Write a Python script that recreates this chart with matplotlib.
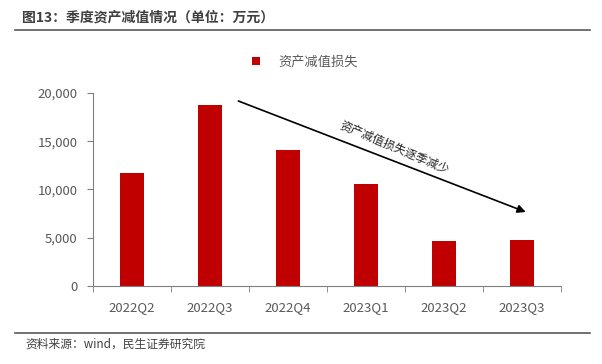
import matplotlib.pyplot as plt
from matplotlib.ticker import FuncFormatter

plt.rcParams["font.family"] = ["Noto Sans CJK SC", "DejaVu Sans"]

QUARTERS = ["2022Q2", "2022Q3", "2022Q4", "2023Q1", "2023Q2", "2023Q3"]
IMPAIRMENT = [11700, 18750, 14100, 10600, 4680, 4760]
SERIES_NAME = "资产减值损失"
TITLE = "图13：季度资产减值情况（单位：万元）"
SOURCE = "资料来源：wind，民生证券研究院"
ARROW_TEXT = "资产减值损失逐季减少"


def main():
    fig = plt.figure(figsize=(6.02, 3.64), dpi=100)
    ax = fig.add_axes([0.1545, 0.2143, 0.7775, 0.5302])

    x = range(len(QUARTERS))
    ax.bar(x, IMPAIRMENT, width=0.31, color="#C00000", label=SERIES_NAME)

    ax.set_xlim(-0.5, len(QUARTERS) - 0.5)
    ax.set_ylim(0, 20000)
    ax.set_yticks(range(0, 20001, 5000))
    ax.yaxis.set_major_formatter(FuncFormatter(lambda v, _: f"{int(v):,}"))
    ax.set_xticks(list(x))
    ax.set_xticklabels(QUARTERS)
    # 区切りの目盛りはカテゴリの境界に
    ax.set_xticks([i - 0.5 for i in range(len(QUARTERS) + 1)], minor=True)
    ax.tick_params(axis="x", which="major", length=0, pad=11)
    ax.tick_params(axis="x", which="minor", length=4, color="#7f7f7f")
    ax.tick_params(axis="y", length=4, color="#7f7f7f", pad=7)
    ax.tick_params(labelsize=9.5, labelcolor="#595959")

    for side in ["top", "right"]:
        ax.spines[side].set_visible(False)
    for side in ["left", "bottom"]:
        ax.spines[side].set_color("#7f7f7f")

    ax.annotate(
        "", xy=(5.08, 7565), xytext=(1.33, 19275),
        arrowprops=dict(arrowstyle="-|>", color="black", lw=1.2, mutation_scale=12),
    )
    ax.text(3.37, 14400, ARROW_TEXT, rotation=-23, ha="center", va="center",
            fontsize=8.5, color="#262626", rotation_mode="anchor")

    fig.legend(handles=ax.get_legend_handles_labels()[0], labels=[SERIES_NAME],
               loc="center", bbox_to_anchor=(0.507, 0.83), frameon=False,
               fontsize=9.5, handlelength=0.6, handleheight=0.6, handletextpad=1.4,
               labelcolor="#595959")

    fig.text(0.037, 0.953, TITLE, fontsize=10, fontweight="bold", color="#3f3f3f", va="center")
    fig.add_artist(plt.Line2D([0.025, 0.98], [0.917, 0.917], color="#595959", lw=1.2))
    fig.add_artist(plt.Line2D([0.025, 0.98], [0.085, 0.085], color="#595959", lw=1.2))
    fig.text(0.042, 0.055, SOURCE, fontsize=8.5, color="#404040", va="center")

    plt.savefig("out.png", dpi=100)


if __name__ == "__main__":
    main()
